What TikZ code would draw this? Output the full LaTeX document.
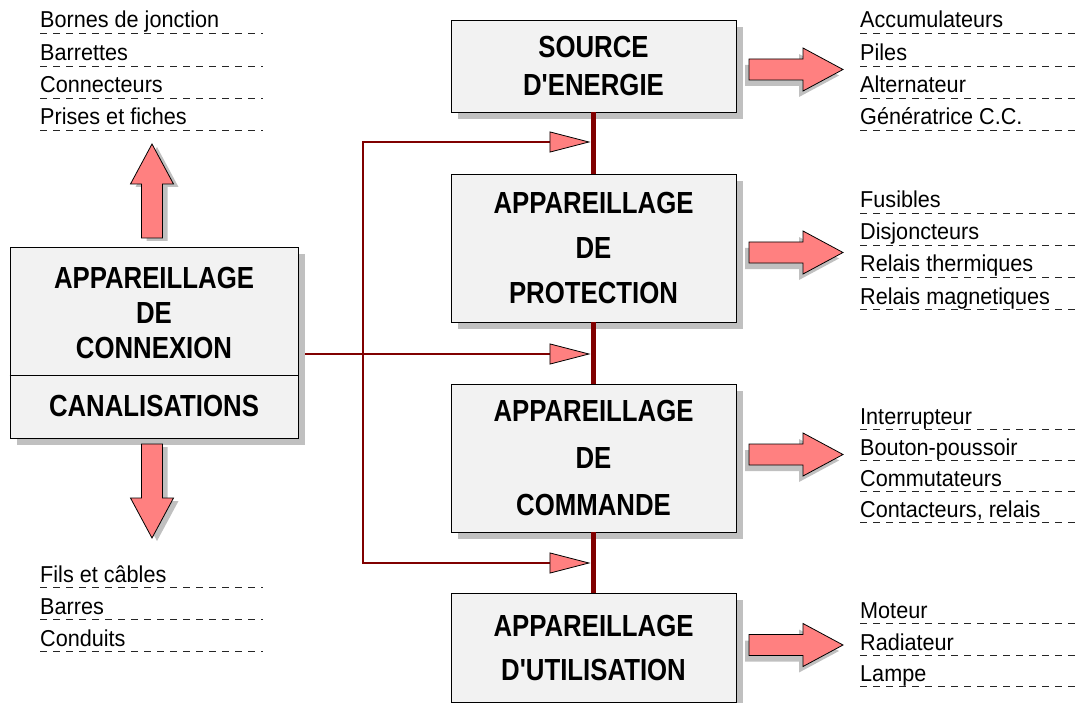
\documentclass[tikz,border=0pt]{standalone}
\usepackage{fontspec}
\setmainfont[FakeStretch=0.94]{Liberation Sans}
\newfontfamily\boxfont[FakeStretch=0.845]{Liberation Sans Bold}
\usetikzlibrary{shadows,arrows.meta}
\definecolor{boxfill}{HTML}{F2F2F2}
\definecolor{shadowgray}{HTML}{C0C0C0}
\definecolor{pinkfill}{HTML}{FF8080}
\definecolor{wire}{HTML}{800000}
\begin{document}
\begin{tikzpicture}[x=1pt,y=-1pt,
  box/.style={draw=black, line width=0.8pt, fill=boxfill, minimum width=285pt,
    align=center, inner sep=0pt,
    drop shadow={shadow xshift=7pt, shadow yshift=-7pt, fill=shadowgray, opacity=1}},
  lbl/.style={align=center, inner sep=0pt},
  item/.style={anchor=base west, inner sep=0pt, font=\fontsize{23}{27}\selectfont},
  dashline/.style={draw=black!85, line width=0.8pt, dash pattern=on 7pt off 6pt},
  bus/.style={draw=wire, line width=5pt},
  feed/.style={draw=wire, line width=2pt,
    -{Triangle[length=41pt,width=21pt,fill=pinkfill,color=black,line width=0.8pt]}},
  barrow/.pic={\path[pic actions] (0,-10.5) -- (54,-10.5) -- (54,-21.5) -- (94,0)
      -- (54,21.5) -- (54,10.5) -- (0,10.5) -- cycle;},
  arrshadow/.style={fill=shadowgray},
  arrmain/.style={fill=pinkfill, draw=black, line width=0.8pt}
]
\useasboundingbox (0,0) rectangle (1078,703);

% boxes
\node[box, minimum height=92pt, font=\boxfont\fontsize{30.5}{38}\selectfont] (src) at (593.5,66) {SOURCE\\D'ENERGIE};
\node[box, minimum height=148pt, font=\boxfont\fontsize{30.5}{45}\selectfont] (prot) at (593.5,248) {APPAREILLAGE\\DE\\PROTECTION};
\node[box, minimum height=148pt, font=\boxfont\fontsize{30.5}{47}\selectfont] (cmd) at (593.5,458) {APPAREILLAGE\\DE\\COMMANDE};
\node[box, minimum height=109pt, font=\boxfont\fontsize{30.5}{44}\selectfont] (util) at (593.5,647.5) {APPAREILLAGE\\D'UTILISATION};
\node[box, minimum width=288pt, minimum height=191pt] (conn) at (154,342.5) {};
\draw[line width=0.8pt] (conn.west |- 0,375) -- (conn.east |- 0,375);
\node[lbl, font=\boxfont\fontsize{30.5}{35}\selectfont] (connlbl) at (154,313) {APPAREILLAGE\\DE\\CONNEXION};
\node[lbl, font=\boxfont\fontsize{30.5}{35}\selectfont] (canlbl) at (154,406) {CANALISATIONS};

% bus
\draw[bus] (src.south) -- (prot.north);
\draw[bus] (prot.south) -- (cmd.north);
\draw[bus] (cmd.south) -- (util.north);

% feedback lines
\coordinate (j1) at (590.5,142);
\coordinate (j2) at (590.5,354);
\coordinate (j3) at (590.5,563);
\coordinate (split) at (363,354);
\draw[feed] ([xshift=7pt]conn.east |- j2) -- (j2);
\draw[feed] (split) |- (j1);
\draw[feed] (split) |- (j3);

% block arrows
\pic[arrshadow] at (745,75.5) {barrow};
\pic[arrmain] at (749,69.5) {barrow};
\pic[arrshadow] at (745,258.5) {barrow};
\pic[arrmain] at (749,252.5) {barrow};
\pic[arrshadow] at (745,460.5) {barrow};
\pic[arrmain] at (749,454.5) {barrow};
\pic[arrshadow] at (745,651) {barrow};
\pic[arrmain] at (749,645) {barrow};
\pic[arrshadow, rotate=90] at (157,241) {barrow};
\pic[arrmain, rotate=90] at (152,238) {barrow};
\pic[arrshadow, rotate=-90] at (157,447) {barrow};
\pic[arrmain, rotate=-90] at (152,444) {barrow};

% lists: dashed lines
\foreach \y in {33,66,98,130,587,619,651} {\draw[dashline] (40,\y) -- (263,\y);}
\foreach \y in {33,66,98,130,213,245,277,309,429,460,491,522,623,655,686} {\draw[dashline] (860,\y) -- (1075,\y);}

% lists: texts
\node[item] (l1) at (40,28) {Bornes de jonction};
\node[item] (l2) at (40,61) {Barrettes};
\node[item] (l3) at (40,93) {Connecteurs};
\node[item] (l4) at (40,125) {Prises et fiches};
\node[item] (b1) at (40,582) {Fils et câbles};
\node[item] (b2) at (40,614) {Barres};
\node[item] (b3) at (40,646) {Conduits};
\node[item] (s1) at (860,28) {Accumulateurs};
\node[item] (s2) at (860,61) {Piles};
\node[item] (s3) at (860,93) {Alternateur};
\node[item] (s4) at (860,125) {Génératrice C.C.};
\node[item] (p1) at (860,208) {Fusibles};
\node[item] (p2) at (860,240) {Disjoncteurs};
\node[item] (p3) at (860,272) {Relais thermiques};
\node[item] (p4) at (860,304) {Relais magnetiques};
\node[item] (c1) at (860,424) {Interrupteur};
\node[item] (c2) at (860,455) {Bouton-poussoir};
\node[item] (c3) at (860,486) {Commutateurs};
\node[item] (c4) at (860,517) {Contacteurs, relais};
\node[item] (u1) at (860,618) {Moteur};
\node[item] (u2) at (860,650) {Radiateur};
\node[item] (u3) at (860,681) {Lampe};
\end{tikzpicture}
\end{document}
